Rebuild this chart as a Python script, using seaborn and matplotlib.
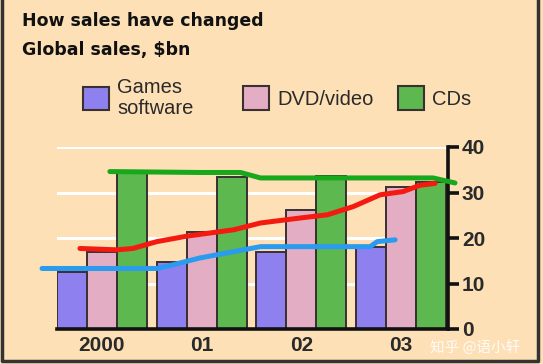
import matplotlib
matplotlib.use("Agg")
import matplotlib.pyplot as plt
import seaborn as sns
import pandas as pd
from matplotlib.patches import Patch
from matplotlib.lines import Line2D

# ---- data ----
years = ["2000", "01", "02", "03"]
series = ["Games\nsoftware", "DVD/video", "CDs"]
games = [12.5, 14.7, 17.0, 18.0]
dvd = [17.0, 21.3, 26.2, 31.2]
cds = [34.5, 33.4, 33.6, 32.3]

# hand-drawn trend lines (x in category units, y in $bn)
green_x = [0.08, 0.98, 1.39, 1.59, 3.32, 3.54]
green_y = [34.6, 34.4, 34.4, 33.2, 33.2, 32.1]
red_x = [-0.22, 0.15, 0.31, 0.55, 0.85, 1.32, 1.59, 1.99, 2.26, 2.52, 2.79, 3.02, 3.19, 3.34]
red_y = [17.7, 17.4, 17.7, 19.2, 20.4, 21.8, 23.3, 24.4, 25.1, 26.9, 29.5, 30.2, 31.6, 32.0]
blue_x = [-0.60, 0.55, 0.71, 0.98, 1.32, 1.59, 2.69, 2.76, 2.94]
blue_y = [13.3, 13.3, 14.1, 15.6, 17.0, 18.1, 18.1, 19.2, 19.6]

yticks = [0, 10, 20, 30, 40]

bar_colors = ["#8F80F0", "#E3AEC4", "#5CB84F"]
bg = "#FDE0B5"

df = pd.DataFrame({
    "year": years * 3,
    "value": games + dvd + cds,
    "series": [series[0]] * 4 + [series[1]] * 4 + [series[2]] * 4,
})

W, H = 543, 364
fig = plt.figure(figsize=(W / 100, H / 100), dpi=100, facecolor=bg)
ax = fig.add_axes([57 / W, 1 - 329 / H, (448 - 57) / W, (329 - 147) / H])
ax.set_facecolor(bg)

sns.barplot(data=df, x="year", y="value", hue="series", palette=bar_colors,
            width=0.9, gap=0, saturation=1, edgecolor="#3a3030", linewidth=1.4,
            legend=False, ax=ax, zorder=2)

ax.plot(green_x, green_y, color="#17A81C", lw=3.6, solid_capstyle="round",
        solid_joinstyle="round", clip_on=False, zorder=5)
ax.plot(red_x, red_y, color="#F41A10", lw=3.6, solid_capstyle="round",
        solid_joinstyle="round", clip_on=False, zorder=5)
ax.plot(blue_x, blue_y, color="#2A9BEF", lw=3.6, solid_capstyle="round",
        solid_joinstyle="round", clip_on=False, zorder=5)

ax.set_xlim(-0.45, 3.47)
ax.set_ylim(0, 40)
ax.set_yticks(yticks)
ax.set_xlabel("")
ax.set_ylabel("")
ax.yaxis.tick_right()
ax.grid(axis="y", color="white", lw=2.2, zorder=0)
ax.grid(axis="x", visible=False)
ax.set_axisbelow(True)
for s in ["left", "top"]:
    ax.spines[s].set_visible(False)
for s in ["right", "bottom"]:
    ax.spines[s].set_linewidth(2.6)
    ax.spines[s].set_color("#111111")
ax.tick_params(axis="y", length=8, width=2.6, color="#111111", pad=2,
               labelsize=15, labelcolor="#2a2a2a")
ax.tick_params(axis="x", length=0, pad=5, labelsize=15, labelcolor="#2a2a2a")
for lab in ax.get_xticklabels() + ax.get_yticklabels():
    lab.set_fontweight("bold")
    lab.set_family("Liberation Sans")

# titles
fig.text(22 / W, 1 - 21 / H, "How sales have changed", fontsize=12.5,
         fontweight="bold", family="DejaVu Sans", color="#111111",
         ha="left", va="center")
fig.text(22 / W, 1 - 50 / H, "Global sales, $bn", fontsize=12.5,
         fontweight="bold", family="DejaVu Sans", color="#111111",
         ha="left", va="center")

# legend: one entry per box to match spacing
leg_x = [83, 243, 398]
for i, (lab, col) in enumerate(zip(series, bar_colors)):
    h = Patch(facecolor=col, edgecolor="#3a3030", linewidth=1.5)
    lg = fig.legend([h], [lab], loc="center left",
                    bbox_to_anchor=(leg_x[i] / W, 1 - 98 / H),
                    frameon=False, borderpad=0, borderaxespad=0,
                    handlelength=1.3, handleheight=1.4, handletextpad=0.4,
                    prop={"family": "Liberation Sans", "size": 14.5},
                    labelspacing=0)
    for t in lg.get_texts():
        t.set_color("#2a2a2a")
        t.set_linespacing(1.15)

# watermark
fig.text(430 / W, 1 - 348 / H, "知乎 @语小轩", fontsize=10.5,
         family=["Noto Sans CJK SC", "DejaVu Sans"], color="white",
         alpha=0.9, ha="left", va="center")

# figure border (left, bottom, right)
border = Line2D([2 / W, 2 / W, 538 / W, 538 / W], [1.0, 1 - 361 / H, 1 - 361 / H, 1.0],
                transform=fig.transFigure, color="#333333", lw=2.5)
fig.add_artist(border)

fig.savefig("out.png", dpi=100, facecolor=bg)
